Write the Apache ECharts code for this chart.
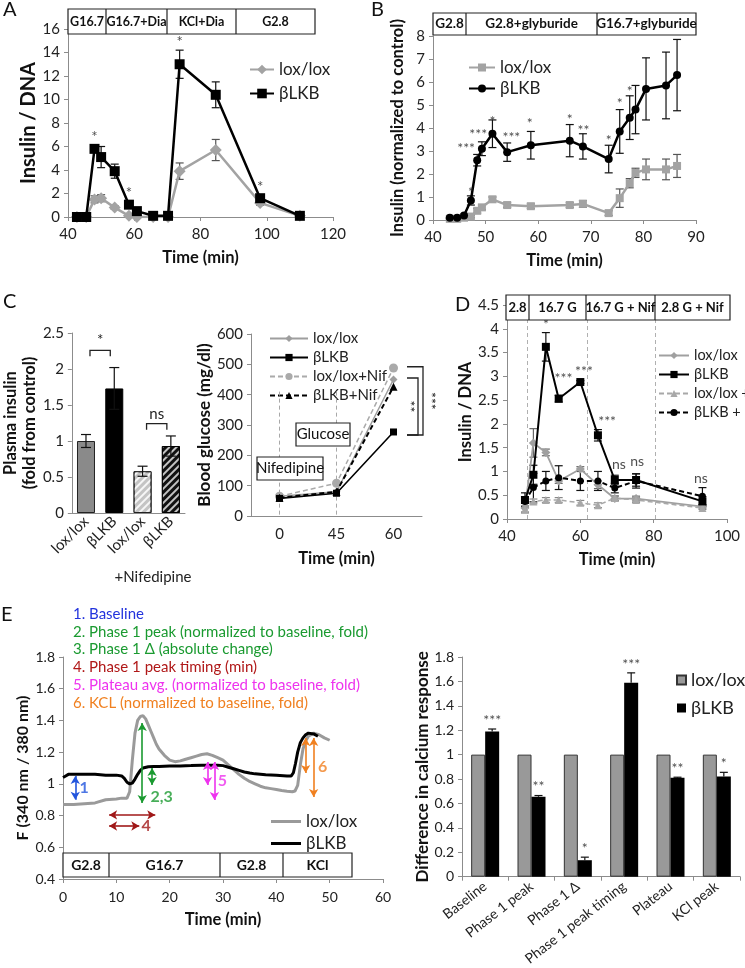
<!DOCTYPE html>
<html><head><meta charset="utf-8">
<script src="https://cdn.jsdelivr.net/npm/echarts@6/dist/echarts.min.js"></script>
<style>html,body{margin:0;padding:0;background:#fff}#c{width:745px;height:968px}</style>
</head><body><div id="c"></div>
<script>
// ---------------- Panel A ----------------
const aTime   = [42.7, 45.5, 48, 50, 54.1, 58.4, 60.8, 65.7, 70.2, 73.7, 84.6, 98, 110];
const aLox    = [0, 0, 1.5, 1.6, 0.8, 0.1, 0, 0, 0, 3.9, 5.7, 1.2, 0.1];
const aLoxErr = [0, 0, 0.3, 0.3, 0.15, 0.05, 0, 0, 0, 0.7, 0.9, 0.2, 0];
const aLkb    = [0, 0, 5.8, 5.1, 3.9, 1.05, 0.5, 0.1, 0.1, 13.0, 10.4, 1.6, 0.1];
const aLkbErr = [0, 0, 0.2, 0.9, 0.6, 0.1, 0.05, 0, 0, 1.2, 1.1, 0.2, 0];
const aStars  = [[48, 6.8, '*'], [58.4, 2.05, '*'], [73.7, 14.9, '*'], [98, 2.55, '*']];
const aHeader = ['G16.7', 'G16.7+Dia', 'KCl+Dia', 'G2.8'];

// ---------------- Panel B ----------------
const bTime   = [43.2, 44.6, 45.9, 47.2, 48.4, 49.3, 51.3, 54.1, 58.6, 66, 68.5, 73.4, 75.5, 77.4, 78.5, 80.5, 84.3, 86.4];
const bLox    = [0.05, 0.05, 0.1, 0.15, 0.4, 0.55, 0.9, 0.65, 0.6, 0.65, 0.7, 0.3, 0.95, 1.6, 2.05, 2.2, 2.2, 2.35];
const bLoxErr = [0, 0, 0, 0.05, 0.1, 0.1, 0.1, 0.1, 0.1, 0.1, 0.15, 0.1, 0.4, 0.2, 0.2, 0.45, 0.45, 0.5];
const bLkb    = [0.1, 0.1, 0.2, 0.85, 2.6, 3.1, 3.75, 2.95, 3.25, 3.45, 3.2, 2.65, 3.85, 4.45, 4.8, 5.7, 5.85, 6.3];
const bLkbErr = [0.02, 0.02, 0.05, 0.2, 0.25, 0.3, 0.6, 0.4, 0.6, 0.7, 0.55, 0.6, 0.95, 0.95, 1.05, 1.35, 1.45, 1.55];
const bStars  = [[47.2, 1.2, '*'], [46.3, 3.1, '***'], [48.6, 3.7, '***'], [51.3, 4.3, '*'], [54.9, 3.6, '***'],
                 [58.4, 4.2, '*'], [66, 4.37, '*'], [68.6, 3.9, '**'], [73.4, 3.47, '*'], [75.5, 5.07, '*'], [77.4, 5.6, '*']];
const bHeader = ['G2.8', 'G2.8+glyburide', 'G16.7+glyburide'];

// ---------------- Panel C (left: bars) ----------------
const cCats = ['lox/lox', 'βLKB', 'lox/lox', 'βLKB'];
const cVals = [1.0, 1.73, 0.58, 0.93];
const cErr  = [0.09, 0.29, 0.07, 0.14];

// ---------------- Panel C (right: glucose) ----------------
const gTimes  = ['0', '45', '60'];
const gLox    = [65, 80, 450];
const gLkb    = [58, 75, 277];
const gLoxNif = [65, 108, 488];
const gLkbNif = [60, 80, 426];

// ---------------- Panel D ----------------
const dTime      = [44.9, 47.2, 50.6, 54.1, 60, 64.8, 69.4, 75.2, 93.3];
const dLox       = [0.23, 1.6, 1.4, 0.8, 1.05, 0.72, 0.43, 0.43, 0.26];
const dLoxErr    = [0.1, 0.3, 0.07, 0.05, 0.05, 0.08, 0.05, 0.05, 0.03];
const dLkb       = [0.4, 0.93, 3.62, 2.53, 2.88, 1.76, 0.82, 0.82, 0.37];
const dLkbErr    = [0.15, 0.2, 0.3, 0.07, 0.03, 0.12, 0.1, 0.13, 0.1];
const dLoxNif    = [0.2, 0.37, 0.4, 0.4, 0.34, 0.29, 0.44, 0.4, 0.23];
const dLoxNifErr = [0.05, 0.05, 0.05, 0.05, 0.05, 0.05, 0.05, 0.05, 0.03];
const dLkbNif    = [0.37, 0.66, 0.8, 0.87, 0.8, 0.8, 0.65, 0.8, 0.48];
const dLkbNifErr = [0.1, 0.3, 0.2, 0.25, 0.2, 0.2, 0.1, 0.15, 0.18];
const dStars = [[50.6, 4.1, '*'], [55.4, 2.95, '***'], [61, 3.1, '***'], [67.3, 2.05, '***'],
                [70.5, 1.15, 'ns'], [75.5, 1.2, 'ns'], [92.9, 0.85, 'ns']];
const dHeader = ['2.8', '16.7 G', '16.7 G + Nif', '2.8 G + Nif'];
const dPhaseLines = [45.5, 62, 80.5];

// ---------------- Panel E (left: calcium traces) ----------------
const eLoxT = [0, 2, 4, 6, 8, 10, 11, 12, 12.5, 13, 13.5, 14, 14.5, 15, 15.5, 16, 16.5, 17, 17.5, 18, 19, 20, 21, 22, 23, 24, 25, 26, 27, 28, 29, 30,
               31, 32, 33, 34, 35, 36, 37, 38, 39, 40, 41, 42, 43, 43.5, 44, 44.5, 45, 45.5, 46, 47, 48, 49, 50];
const eLox  = [0.87, 0.87, 0.875, 0.88, 0.9, 0.905, 0.91, 0.91, 0.95, 1.15, 1.32, 1.40, 1.425, 1.43, 1.41, 1.37, 1.33, 1.29, 1.25, 1.22, 1.18, 1.15,
               1.14, 1.145, 1.155, 1.165, 1.175, 1.185, 1.19, 1.18, 1.165, 1.15, 1.12, 1.09, 1.06, 1.035, 1.015, 1.0, 0.985, 0.975, 0.97, 0.965,
               0.958, 0.953, 0.95, 0.955, 0.99, 1.12, 1.22, 1.27, 1.3, 1.32, 1.31, 1.29, 1.275];
const eLkbT = [0, 0.5, 1, 2, 4, 6, 8, 10, 11, 11.5, 12, 12.5, 13, 13.5, 14, 14.5, 15, 16, 17, 18, 20, 22, 24, 26, 28, 29, 30, 31, 32, 33, 34, 35,
               36, 38, 40, 42, 42.8, 43.2, 43.6, 44, 44.5, 45, 45.5, 46, 47, 47.8];
const eLkb  = [1.04, 1.05, 1.06, 1.06, 1.06, 1.06, 1.055, 1.055, 1.05, 1.035, 1.01, 1.0, 1.005, 1.03, 1.06, 1.085, 1.1, 1.108, 1.11, 1.11, 1.112,
               1.113, 1.115, 1.118, 1.118, 1.118, 1.115, 1.105, 1.095, 1.085, 1.075, 1.068, 1.063, 1.058, 1.055, 1.05, 1.05, 1.07, 1.13, 1.2, 1.26,
               1.29, 1.31, 1.32, 1.315, 1.3];
const eHeader = ['G2.8', 'G16.7', 'G2.8', 'KCl'];
const eNotes = ['1. Baseline', '2. Phase 1 peak (normalized to baseline, fold)', '3. Phase 1 Δ (absolute change)',
                '4. Phase 1 peak timing (min)', '5. Plateau avg. (normalized to baseline, fold)', '6. KCL (normalized to baseline, fold)'];

// ---------------- Panel E (right: bars) ----------------
const eCats      = ['Baseline', 'Phase 1 peak', 'Phase 1 Δ', 'Phase 1 peak timing', 'Plateau', 'KCl peak'];
const eLoxBar    = [1, 1, 1, 1, 1, 1];
const eLkbBar    = [1.19, 0.655, 0.135, 1.59, 0.81, 0.82];
const eLkbBarErr = [0.02, 0.01, 0.025, 0.08, 0.005, 0.035];
const eStars     = ['***', '**', '*', '***', '**', '*'];

// =================================================================
const FONT = 'Lato, "Open Sans", sans-serif';
const GRAY = '#a3a3a3';
const AX = '#8c8c8c';
const TXT = '#222';
const chart = echarts.init(document.getElementById('c'));

function zip(xs, ys) { return xs.map((x, i) => [x, ys[i]]); }
function zip3(xs, ys, es) { return xs.map((x, i) => [x, ys[i], es[i]]); }
function lbl(fs, extra) { return Object.assign({ color: TXT, fontSize: fs, fontFamily: FONT }, extra || {}); }
function nts(fs, extra) { return Object.assign({ color: '#111', fontSize: fs, fontWeight: 'bold', fontFamily: FONT }, extra || {}); }

function valAxis(gi, min, max, interval, extra) {
  return Object.assign({
    type: 'value', gridIndex: gi, min: min, max: max, interval: interval,
    axisLine: { show: true, lineStyle: { color: AX } },
    axisTick: { show: true, length: 4, lineStyle: { color: AX } },
    splitLine: { show: false },
    axisLabel: lbl(15, { margin: 8 }),
    nameTextStyle: nts(16.5)
  }, extra || {});
}
function catAxis(gi, data, extra) {
  return Object.assign({
    type: 'category', gridIndex: gi, data: data,
    axisLine: { show: true, lineStyle: { color: AX } },
    axisTick: { show: true, length: 4, lineStyle: { color: AX } },
    splitLine: { show: false },
    axisLabel: lbl(15),
    nameTextStyle: nts(16.5)
  }, extra || {});
}

function errRender(color, dx, cap, upOnly, lw) {
  return function (params, api) {
    const x = api.value(0), y = api.value(1), e = api.value(2);
    const c = api.coord([x, y]);
    const hi = api.coord([x, y + e]);
    const lo = upOnly ? c : api.coord([x, y - e]);
    const X = c[0] + dx;
    const st = { stroke: color, lineWidth: lw || 1.2 };
    const ch = [
      { type: 'line', shape: { x1: X, y1: hi[1], x2: X, y2: lo[1] }, style: st },
      { type: 'line', shape: { x1: X - cap, y1: hi[1], x2: X + cap, y2: hi[1] }, style: st }
    ];
    if (!upOnly) ch.push({ type: 'line', shape: { x1: X - cap, y1: lo[1], x2: X + cap, y2: lo[1] }, style: st });
    return { type: 'group', children: ch };
  };
}
function errSeries(xi, data, color, dx, cap, upOnly, z, lw) {
  return { type: 'custom', xAxisIndex: xi, yAxisIndex: xi, data: data, silent: true, z: z || 3,
           encode: { x: 0, y: 1 }, renderItem: errRender(color, dx || 0, cap || 4, upOnly, lw) };
}
function starSeries(xi, data, size, color, offset) {
  return { type: 'scatter', xAxisIndex: xi, yAxisIndex: xi, data: data, symbolSize: 1, silent: true, z: 6,
           itemStyle: { color: 'transparent' },
           label: { show: true, position: 'inside', formatter: p => p.data[2], color: color || TXT,
                    fontSize: size || 14, fontFamily: FONT, offset: offset || [0, 0] } };
}
function lineSeries(name, xi, data, color, symbol, size, width, dashed, z) {
  return { name: name, type: 'line', xAxisIndex: xi, yAxisIndex: xi, data: data, symbol: symbol, symbolSize: size,
           showSymbol: symbol !== 'none', z: z || 4,
           lineStyle: { color: color, width: width, type: dashed ? [5, 3] : 'solid' },
           itemStyle: { color: color, borderWidth: 0 } };
}

const grids = [
  { left: 68, top: 29, width: 265, height: 188 },   // 0 A
  { left: 433, top: 36, width: 263, height: 184 },  // 1 B
  { left: 62, top: 333, width: 123, height: 180 },  // 2 C left
  { left: 251, top: 334, width: 171, height: 182 }, // 3 C right
  { left: 507, top: 305, width: 220, height: 214 }, // 4 D
  { left: 63, top: 657, width: 320, height: 222 },  // 5 E left
  { left: 462, top: 657, width: 278, height: 220 }  // 6 E right
];

const xAxes = [
  valAxis(0, 40, 120, 20, { axisLabel: lbl(15, { margin: 10 }), name: 'Time (min)', nameLocation: 'middle', nameGap: 32 }),
  valAxis(1, 40, 90, 10, { axisLabel: lbl(15, { margin: 10 }), name: 'Time (min)', nameLocation: 'middle', nameGap: 32 }),
  catAxis(2, cCats, { axisLabel: lbl(15, { rotate: 45, margin: 6, interval: 0 }), axisTick: { show: false } }),
  catAxis(3, gTimes, { axisTick: { show: false }, axisLabel: lbl(15, { margin: 11 }),
          name: 'Time (min)', nameLocation: 'middle', nameGap: 34 }),
  valAxis(4, 40, 100, 20, { axisLabel: lbl(15, { margin: 10 }), name: 'Time (min)', nameLocation: 'middle', nameGap: 32 }),
  valAxis(5, 0, 60, 10, { axisLabel: lbl(14, { margin: 11 }), name: 'Time (min)', nameLocation: 'middle', nameGap: 32 }),
  catAxis(6, eCats, { axisLabel: lbl(14, { rotate: 38, margin: 8, interval: 0 }) })
];
const yAxes = [
  valAxis(0, 0, 16, 2, { name: 'Insulin / DNA', nameLocation: 'middle', nameGap: 29, nameTextStyle: nts(20) }),
  valAxis(1, 0, 8, 1, { name: 'Insulin (normalized to control)', nameLocation: 'middle', nameGap: 27 }),
  valAxis(2, 0, 2.5, 0.5, { name: 'Plasma insulin\n(fold from control)', nameLocation: 'middle', nameGap: 24,
          nameTextStyle: nts(16.5, { lineHeight: 19 }) }),
  valAxis(3, 0, 600, 100, { name: 'Blood glucose (mg/dl)', nameLocation: 'middle', nameGap: 34, nameTextStyle: nts(17) }),
  valAxis(4, 0, 4.5, 0.5, { name: 'Insulin / DNA', nameLocation: 'middle', nameGap: 31 }),
  valAxis(5, 0.4, 1.8, 0.2, { name: 'F (340 nm / 380 nm)', nameLocation: 'middle', nameGap: 32,
          axisLabel: lbl(14), nameTextStyle: nts(16) }),
  valAxis(6, 0, 1.8, 0.2, { name: 'Difference in calcium response', nameLocation: 'middle', nameGap: 31,
          axisLabel: lbl(14), nameTextStyle: nts(17) })
];

const series = [];
// ---- A ----
series.push(errSeries(0, zip3(aTime, aLox, aLoxErr), '#555', 0, 4));
series.push(errSeries(0, zip3(aTime, aLkb, aLkbErr), '#111', 0, 4));
series.push(lineSeries('A|lox/lox', 0, zip(aTime, aLox), GRAY, 'diamond', 12, 2.5, false));
series.push(lineSeries('A|βLKB', 0, zip(aTime, aLkb), '#000', 'rect', 10, 2.5, false, 5));
series.push(starSeries(0, aStars, 15));
// ---- B ----
series.push(errSeries(1, zip3(bTime, bLox, bLoxErr), '#555', 0, 4));
series.push(errSeries(1, zip3(bTime, bLkb, bLkbErr), '#111', 0, 4));
series.push(lineSeries('B|lox/lox', 1, zip(bTime, bLox), GRAY, 'rect', 8, 2.5, false));
series.push(lineSeries('B|βLKB', 1, zip(bTime, bLkb), '#000', 'circle', 8, 2.5, false, 5));
series.push(starSeries(1, bStars, 14));
// ---- C left ----
const hatch = (c) => ({ symbol: 'rect', symbolSize: 1, color: c, dashArrayX: [1, 0], dashArrayY: [2, 3], rotation: -Math.PI / 4 });
series.push({
  type: 'bar', xAxisIndex: 2, yAxisIndex: 2, barWidth: 18, z: 2,
  data: cVals.map((v, i) => ({
    value: v,
    itemStyle: [
      { color: '#8a8a8a', borderColor: '#222', borderWidth: 1 },
      { color: '#000', borderColor: '#000', borderWidth: 1 },
      { color: '#c4c4c4', borderColor: '#222', borderWidth: 1, decal: hatch('rgba(255,255,255,0.85)') },
      { color: '#111', borderColor: '#000', borderWidth: 1, decal: hatch('rgba(255,255,255,0.75)') }
    ][i]
  }))
});
series.push(errSeries(2, cVals.map((v, i) => [i, v, cErr[i]]), '#111', 0, 5));
// ---- C right ----
series.push(Object.assign(lineSeries('C|lox/lox', 3, gLox, '#9e9e9e', 'diamond', 8, 1.5, false), {
  markLine: { silent: true, symbol: 'none', label: { show: false },
              lineStyle: { type: [4, 3], color: '#a8a8a8', width: 1 },
              data: [[{ coord: [0, 410] }, { coord: [0, 0] }], [{ coord: [1, 410] }, { coord: [1, 0] }]] } }));
series.push(lineSeries('C|βLKB', 3, gLkb, '#000', 'rect', 7, 1.6, false, 5));
series.push(lineSeries('C|lox/lox+Nif', 3, gLoxNif, '#aaaaaa', 'circle', 9, 1.5, true));
series.push(lineSeries('C|βLKB+Nif', 3, gLkbNif, '#000', 'triangle', 8, 2, true, 5));
// ---- D ----
series.push(errSeries(4, zip3(dTime, dLox, dLoxErr), '#666', 0, 4));
series.push(errSeries(4, zip3(dTime, dLkb, dLkbErr), '#111', 0, 4));
series.push(errSeries(4, zip3(dTime, dLoxNif, dLoxNifErr), '#888', 0, 4));
series.push(errSeries(4, zip3(dTime, dLkbNif, dLkbNifErr), '#111', 0, 4));
series.push(Object.assign(lineSeries('D|lox/lox', 4, zip(dTime, dLox), '#a0a0a0', 'diamond', 9, 1.8, false), {
  markLine: { silent: true, symbol: 'none', label: { show: false },
              lineStyle: { type: [4, 3], color: '#b0b0b0', width: 1 },
              data: dPhaseLines.map(x => [{ coord: [x, 0] }, { coord: [x, 4.5] }]) } }));
series.push(lineSeries('D|βLKB', 4, zip(dTime, dLkb), '#000', 'rect', 8, 2, false, 5));
series.push(lineSeries('D|lox/lox +', 4, zip(dTime, dLoxNif), '#a8a8a8', 'triangle', 8, 1.5, true));
series.push(lineSeries('D|βLKB +', 4, zip(dTime, dLkbNif), '#000', 'circle', 7, 2, true, 5));
series.push(starSeries(4, dStars, 14));
// ---- E left ----
const arrow = (x1, y1, x2, y2, c) => [{ coord: [x1, y1], lineStyle: { color: c, width: 1.6, type: 'solid' } }, { coord: [x2, y2] }];
series.push(Object.assign(lineSeries('E|lox/lox', 5, zip(eLoxT, eLox), '#9a9a9a', 'none', 0, 3, false), {
  markLine: { silent: true, symbol: ['arrow', 'arrow'], symbolSize: [7, 8], label: { show: false }, z: 8,
    data: [
      arrow(2.3, 1.05, 2.3, 0.9, '#2255dd'),
      arrow(14.85, 1.384, 14.85, 0.879, '#1a9a30'),
      arrow(16.7, 1.10, 16.7, 0.993, '#1a9a30'),
      arrow(8.65, 0.804, 17.3, 0.804, '#a01818'),
      arrow(8.65, 0.734, 14.3, 0.734, '#a01818'),
      arrow(27.1, 1.138, 27.1, 0.993, '#ee33ee'),
      arrow(28.4, 1.138, 28.4, 0.898, '#ee33ee'),
      arrow(45.5, 1.289, 45.5, 1.068, '#f08020'),
      arrow(47.0, 1.289, 47.0, 0.917, '#f08020')
    ] } }));
series.push(lineSeries('E|βLKB', 5, zip(eLkbT, eLkb), '#000', 'none', 0, 3, false, 5));
series.push({ type: 'scatter', xAxisIndex: 5, yAxisIndex: 5, symbolSize: 1, silent: true, z: 9,
  itemStyle: { color: 'transparent' },
  label: { show: true, position: 'inside', formatter: p => p.data.t, fontSize: 16, fontWeight: 'bold', fontFamily: FONT },
  data: [
    { value: [3.95, 0.974], t: '1', label: { color: '#2255dd' } },
    { value: [18.5, 0.917], t: '2,3', label: { color: '#1a9a30' } },
    { value: [15.6, 0.734], t: '4', label: { color: '#a01818' } },
    { value: [29.9, 1.018], t: '5', label: { color: '#ee33ee' } },
    { value: [48.7, 1.106], t: '6', label: { color: '#f08020' } }
  ] });
// ---- E right ----
series.push({ name: 'F|lox/lox', type: 'bar', xAxisIndex: 6, yAxisIndex: 6, data: eLoxBar, barWidth: 14, barGap: '0%',
              itemStyle: { color: '#999999', borderColor: '#333', borderWidth: 1 } });
series.push({ name: 'F|βLKB', type: 'bar', xAxisIndex: 6, yAxisIndex: 6, data: eLkbBar, barWidth: 14, barGap: '0%',
              itemStyle: { color: '#000' } });
series.push(errSeries(6, eLkbBar.map((v, i) => [i, v, eLkbBarErr[i]]), '#111', 7, 4, true));
series.push(starSeries(6, eLkbBar.map((v, i) => [i, v + eLkbBarErr[i] + 0.07, eStars[i]]), 14, TXT, [7, 0]));

const legendBase = { orient: 'vertical', selectedMode: false, formatter: n => n.split('|')[1],
                     textStyle: { color: TXT, fontFamily: FONT, fontSize: 17 } };
const legends = [
  Object.assign({}, legendBase, { left: 244, top: 56, itemWidth: 24, itemHeight: 12, itemGap: 7, data: ['A|lox/lox', 'A|βLKB'] }),
  Object.assign({}, legendBase, { left: 463, top: 54, itemWidth: 26, itemHeight: 10, itemGap: 4, data: ['B|lox/lox', 'B|βLKB'] }),
  Object.assign({}, legendBase, { left: 264, top: 326, itemWidth: 38, itemHeight: 9, itemGap: 4,
     textStyle: { color: TXT, fontFamily: FONT, fontSize: 15 }, data: ['C|lox/lox', 'C|βLKB', 'C|lox/lox+Nif', 'C|βLKB+Nif'] }),
  Object.assign({}, legendBase, { left: 653, top: 343, itemWidth: 30, itemHeight: 9, itemGap: 4,
     textStyle: { color: TXT, fontFamily: FONT, fontSize: 14.5 }, data: ['D|lox/lox', 'D|βLKB', 'D|lox/lox +', 'D|βLKB +'] }),
  Object.assign({}, legendBase, { left: 266, top: 808, itemWidth: 30, itemHeight: 3, itemGap: 5, icon: 'rect',
     data: ['E|lox/lox', 'E|βLKB'] }),
  Object.assign({}, legendBase, { left: 671, top: 666, itemWidth: 9, itemHeight: 9, itemGap: 10, icon: 'rect',
     textStyle: { color: TXT, fontFamily: FONT, fontSize: 18 }, data: ['F|lox/lox', 'F|βLKB'] })
];

chart.setOption({
  animation: false,
  textStyle: { fontFamily: FONT },
  grid: grids, xAxis: xAxes, yAxis: yAxes, series: series, legend: legends
});

// ---------- graphics: header boxes, panel letters, notes, brackets ----------
const g = [];
let gid = 0;
function box(x1, x2, y1, y2, dividers, labels, fs, bold) {
  g.push({ id: 'g' + (gid++), type: 'rect', z: 50, shape: { x: x1, y: y1, width: x2 - x1, height: y2 - y1 },
           style: { fill: '#fff', stroke: '#222', lineWidth: 1.2 } });
  const edges = [x1].concat(dividers, [x2]);
  dividers.forEach(d => g.push({ id: 'g' + (gid++), type: 'line', z: 51, shape: { x1: d, y1: y1, x2: d, y2: y2 },
                                 style: { stroke: '#222', lineWidth: 1.2 } }));
  labels.forEach((t, i) => g.push({ id: 'g' + (gid++), type: 'text', z: 52,
     x: (edges[i] + edges[i + 1]) / 2, y: (y1 + y2) / 2,
     style: { text: t, fill: '#111', font: (bold ? 'bold ' : '') + fs + 'px ' + FONT, textAlign: 'center', textVerticalAlign: 'middle' } }));
}
function text(x, y, t, fs, color, extra) {
  g.push(Object.assign({ id: 'g' + (gid++), type: 'text', z: 52, x: x, y: y,
     style: Object.assign({ text: t, fill: color || '#111', font: fs + 'px ' + FONT, textAlign: 'left', textVerticalAlign: 'middle' }, extra || {}) }));
}
box(68, 315, 9, 34, [106, 167, 236], aHeader, 12.5, true);
box(433, 696, 13, 35, [466, 597], bHeader, 13.5, true);
box(506, 730, 295, 320, [529, 586, 655], dHeader, 13, true);
box(63, 352, 853, 877, [109, 220, 283], eHeader, 14, true);
// C right treatment labels
box(296, 350, 423, 446, [], ['Glucose'], 15, false);
box(257, 323, 457, 480, [], ['Nifedipine'], 15, false);

text(3, 10, 'A', 20, '#111');
text(371, 10, 'B', 20, '#111');
text(3, 302, 'C', 20, '#111');
text(455, 305, 'D', 20, '#111');
text(1, 615, 'E', 20, '#111');
text(153, 577, '+Nifedipine', 15, TXT, { textAlign: 'center' });

const noteColors = ['#2233dd', '#1a9a30', '#1a9a30', '#b01818', '#ee33ee', '#f08020'];
eNotes.forEach((t, i) => text(73, 614 + i * 17.8, t, 15, noteColors[i]));

// brackets (computed through the chart scales)
function px(gi, v) { return chart.convertToPixel({ gridIndex: gi }, v); }
function poly(points) {
  g.push({ id: 'g' + (gid++), type: 'polyline', z: 40, shape: { points: points }, style: { stroke: '#222', lineWidth: 1.3, fill: null } });
}
[[0, 1, 2.26, '*'], [2, 3, 1.24, 'ns']].forEach(b => {
  const p1 = px(2, [b[0], b[2]]), p2 = px(2, [b[1], b[2]]);
  const l = p1[0] + 4, r = p2[0] - 4;
  poly([[l, p1[1] + 6], [l, p1[1]], [r, p1[1]], [r, p1[1] + 6]]);
  text((l + r) / 2, p1[1] - 10, b[3], 15, TXT, { textAlign: 'center' });
});
[[455, 267, 418, '**', 410], [492, 267, 423, '***', 431]].forEach(b => {
  const top = px(3, [2, b[0]]), bot = px(3, [2, b[1]]);
  const x0 = 407;
  poly([[x0, top[1]], [b[2], top[1]], [b[2], bot[1]], [x0, bot[1]]]);
  g.push({ id: 'g' + (gid++), type: 'text', z: 52, x: b[4], y: (top[1] + bot[1]) / 2, rotation: -Math.PI / 2,
           style: { text: b[3], fill: TXT, font: '14px ' + FONT, textAlign: 'center', textVerticalAlign: 'middle' } });
});

chart.setOption({ graphic: g });
</script>
</body></html>
